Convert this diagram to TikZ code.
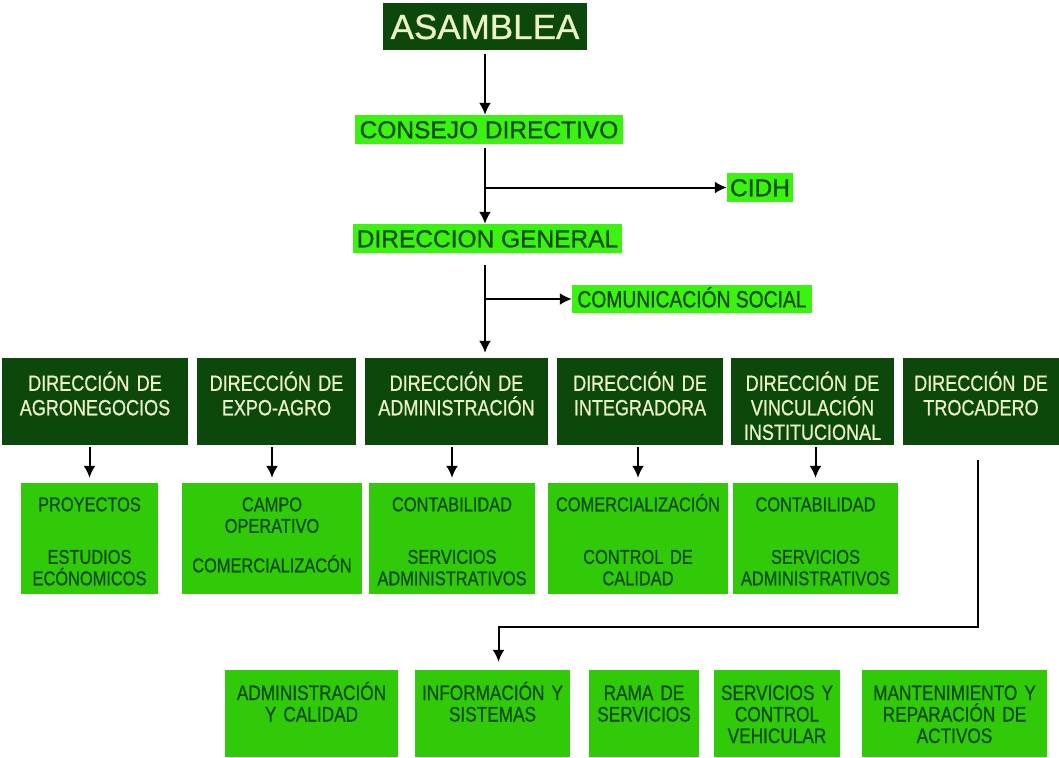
\documentclass[tikz,border=0pt]{standalone}
\usepackage{fontspec}
\setmainfont{Liberation Sans}[FakeStretch=0.82, FakeBold=0.7]
\newfontfamily\widefont{Liberation Sans}[FakeBold=0.7]
\usetikzlibrary{shapes,arrows,arrows.meta}
\definecolor{darkgr}{RGB}{12,72,12}
\definecolor{brightgr}{RGB}{60,242,16}
\definecolor{midgr}{RGB}{48,202,8}
\definecolor{txtgr}{RGB}{10,75,10}
\definecolor{cream}{RGB}{236,242,196}
\tikzstyle{line} = [draw, -{Latex[length=12pt,width=12pt]}, line width=2pt, black]
\tikzstyle{head} = [rectangle, fill=darkgr, text=cream, inner sep=0pt, font=\widefont\fontsize{35}{37}\selectfont, minimum width=204pt, minimum height=47pt, text height=25pt, text depth=0pt]
\tikzstyle{unit} = [rectangle, fill=brightgr, text=txtgr, inner sep=0pt, font=\widefont\fontsize{24.5}{26}\selectfont, minimum height=29pt, text height=17.5pt, text depth=0pt]
\tikzstyle{dir} = [rectangle, fill=darkgr, text=cream, inner xsep=1pt, inner ysep=0pt, align=center, font=\fontsize{22}{24.5}\selectfont, text height=32.8pt, text depth=54.2pt]
\tikzstyle{sec} = [rectangle, fill=midgr, text=txtgr, inner xsep=1pt, inner ysep=0pt, align=center, font=\fontsize{20}{21.5}\selectfont, text height=28.3pt, text depth=82.7pt]
\tikzstyle{area} = [rectangle, fill=midgr, text=txtgr, inner xsep=1pt, inner ysep=0pt, align=center, font=\fontsize{21}{21.5}\selectfont, text height=30pt, text depth=57pt]
\begin{document}
\begin{tikzpicture}[x=1pt, y=-1pt]
		\useasboundingbox [fill=white] (0,0) rectangle (1059,757);
		
		\node [head] (asamblea) at (485,26.5) {ASAMBLEA};
		\node [unit, minimum width=268pt] (consejo) at (489,129.5) {CONSEJO DIRECTIVO};
		\node [unit, minimum width=66pt] (cidh) at (760,187.5) {CIDH};
		\node [unit, minimum width=269pt] (dgeneral) at (487.5,238.5) {DIRECCION GENERAL};
		\node [unit, minimum width=240pt, minimum height=28pt, font=\fontsize{23.5}{25}\selectfont, text height=16.8pt] (comsoc) at (692,299) {COMUNICACIÓN SOCIAL};
		
		\path [line, shorten <=4pt] (asamblea.south) to (asamblea.south |- consejo.north);
		\path [line, shorten <=4pt] (asamblea.south |- consejo.south) to (asamblea.south |- dgeneral.north);
		\path [line] (asamblea.south |- cidh.west) to (cidh.west);
		
		% direcciones
		\node [dir, text width=184pt] (agro) at (95,401.5) {DIRECCIÓN DE\\AGRONEGOCIOS};
		\node [dir, text width=157pt, right of=agro, node distance=181.5pt] (expo) {DIRECCIÓN DE\\EXPO-AGRO};
		\node [dir, text width=181pt, right of=expo, node distance=180pt] (admin) {DIRECCIÓN DE\\ADMINISTRACIÓN};
		\node [dir, text width=164pt, right of=admin, node distance=183.5pt] (integ) {DIRECCIÓN DE\\INTEGRADORA};
		\node [dir, text width=161pt, right of=integ, node distance=172.5pt] (vincu) {DIRECCIÓN DE\\VINCULACIÓN\\INSTITUCIONAL};
		\node [dir, text width=154pt, right of=vincu, node distance=168.5pt] (troca) {DIRECCIÓN DE\\TROCADERO};
		
		\path [line, shorten <=12pt, shorten >=5pt] (asamblea.south |- dgeneral.south) to (asamblea.south |- admin.north);
		\path [line] (asamblea.south |- comsoc.west) to (comsoc.west);
		
		% areas
		\node [sec, text width=135pt] (proy) at (89.5,538.5) {PROYECTOS\\[31pt]ESTUDIOS\\ECÓNOMICOS};
		\node [sec, text width=178pt, right of=proy, node distance=182.5pt] (campo) {CAMPO\\OPERATIVO\\[18pt]COMERCIALIZACÓN};
		\node [sec, text width=164pt, right of=campo, node distance=180pt] (conta) {CONTABILIDAD\\[31pt]SERVICIOS\\ADMINISTRATIVOS};
		\node [sec, text width=178pt, right of=conta, node distance=186pt] (comer) {COMERCIALIZACIÓN\\[31pt]CONTROL DE\\CALIDAD};
		\node [sec, text width=163pt, right of=comer, node distance=177.5pt] (contv) {CONTABILIDAD\\[31pt]SERVICIOS\\ADMINISTRATIVOS};
		
		\path [line, shorten <=2pt, shorten >=5pt] (proy.north |- agro.south) to (proy.north);
		\path [line, shorten <=2pt, shorten >=5pt] (campo.north |- expo.south) to (campo.north);
		\path [line, shorten <=2pt, shorten >=5pt] (conta.north |- admin.south) to (conta.north);
		\path [line, shorten <=2pt, shorten >=5pt] (comer.north |- integ.south) to (comer.north);
		\path [line, shorten <=2pt, shorten >=5pt] (contv.north |- vincu.south) to (contv.north);
		
		% trocadero
		\node [area, text width=171pt] (admcal) at (311.5,713.5) {ADMINISTRACIÓN\\Y CALIDAD};
		\node [area, text width=153pt, right of=admcal, node distance=181pt] (info) {INFORMACIÓN Y\\SISTEMAS};
		\node [area, text width=108pt, right of=info, node distance=151.5pt] (rama) {RAMA DE\\SERVICIOS};
		\node [area, text width=124pt, right of=rama, node distance=133pt] (vehic) {SERVICIOS Y\\CONTROL\\VEHICULAR};
		\node [area, text width=183pt, right of=vehic, node distance=177.5pt] (mant) {MANTENIMIENTO Y\\REPARACIÓN DE\\ACTIVOS};
		
		\coordinate (tbend) at (978,627);
		\path [line, shorten <=15pt, shorten >=8pt] (tbend |- troca.south) -- (tbend) -| ([xshift=6pt]info.north);
		\end{tikzpicture}
\end{document}
